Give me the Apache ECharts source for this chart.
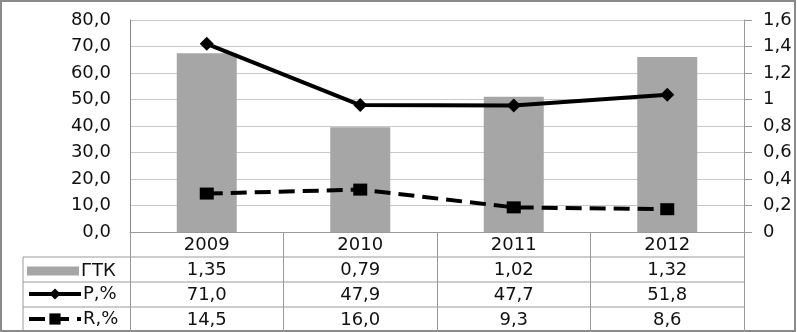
<!DOCTYPE html>
<html>
<head>
<meta charset="utf-8">
<script src="https://cdn.jsdelivr.net/npm/echarts@6/dist/echarts.min.js"></script>
<style>
  html, body { margin: 0; padding: 0; background: #fff; }
  #chart { width: 797px; height: 332px; }
</style>
</head>
<body>
<div id="chart"></div>
<script>
const years = ['2009', '2010', '2011', '2012']
const gtk = [1.35, 0.79, 1.02, 1.32]
const pPct = [71.0, 47.9, 47.7, 51.8]
const rPct = [14.5, 16.0, 9.3, 8.6]

const font = 'DejaVu Sans'
const fs = 18
const comma = (v, d) => v.toFixed(d).replace('.', ',')
const rightFmt = (v) => String(Math.round(v * 10) / 10).replace('.', ',')

const chart = echarts.init(document.getElementById('chart'))

// extra category axes used as table rows under the plot
const tableRow = (idx, labels) => ({
  type: 'category',
  gridIndex: 0,
  position: 'bottom',
  offset: 25 * idx,
  data: labels,
  axisLine: { show: false },
  axisTick: { show: false },
  axisLabel: { color: '#111', fontFamily: font, fontSize: fs, margin: 4 },
})

// one legend per table row, sitting in the left column
const rowLegend = (item, top, h) => ({
  orient: 'vertical',
  left: 27,
  top: top,
  padding: 0,
  itemWidth: 52,
  itemHeight: h,
  lineStyle: { width: 4 },
  textStyle: { color: '#111', fontFamily: font, fontSize: fs, padding: [0, 0, 0, -3] },
  data: [item],
})

const tableLine = (y, x1) => ({
  type: 'line',
  silent: true,
  shape: { x1: x1, y1: y, x2: 744, y2: y },
  style: { stroke: '#9a9a9a', lineWidth: 1 },
})

chart.setOption({
  animation: false,
  grid: { left: 130, right: 53, top: 20, bottom: 100 },
  legend: [
    rowLegend({ name: 'ГТК', icon: 'rect' }, 262, 9),
    rowLegend('P,%', 285, 14),
    rowLegend('R,%', 310, 14),
  ],
  xAxis: [
    {
      type: 'category',
      data: years,
      axisLine: { lineStyle: { color: '#9a9a9a' } },
      axisTick: { show: true, length: 100, interval: 0, lineStyle: { color: '#9a9a9a' } },
      axisLabel: { color: '#111', fontFamily: font, fontSize: fs, margin: 4 },
    },
    tableRow(1, gtk.map((v) => comma(v, 2))),
    tableRow(2, pPct.map((v) => comma(v, 1))),
    tableRow(3, rPct.map((v) => comma(v, 1))),
  ],
  yAxis: [
    {
      type: 'value',
      min: 0,
      max: 80,
      interval: 10,
      axisLine: { show: true, lineStyle: { color: '#888' } },
      axisTick: { show: false },
      splitLine: { lineStyle: { color: '#c8c8c8' } },
      axisLabel: { color: '#111', fontFamily: font, fontSize: fs, margin: 19, formatter: (v) => comma(v, 1) },
    },
    {
      type: 'value',
      min: 0,
      max: 1.6,
      interval: 0.2,
      axisLine: { show: true, lineStyle: { color: '#9a9a9a' } },
      axisTick: { show: true, length: 8, lineStyle: { color: '#9a9a9a' } },
      splitLine: { show: false },
      axisLabel: { color: '#111', fontFamily: font, fontSize: fs, margin: 19, formatter: rightFmt },
    },
  ],
  series: [
    {
      name: 'ГТК',
      type: 'bar',
      yAxisIndex: 1,
      barWidth: 60,
      itemStyle: { color: '#a6a6a6' },
      data: gtk,
    },
    {
      name: 'P,%',
      type: 'line',
      yAxisIndex: 0,
      symbol: 'diamond',
      symbolSize: 14,
      lineStyle: { color: '#000', width: 4 },
      itemStyle: { color: '#000' },
      data: pPct,
    },
    {
      name: 'R,%',
      type: 'line',
      yAxisIndex: 0,
      symbol: 'rect',
      symbolSize: [14, 12],
      lineStyle: { color: '#000', width: 4, type: [16, 8] },
      itemStyle: { color: '#000' },
      data: rPct,
    },
  ],
  graphic: [
    tableLine(257, 23),
    tableLine(282, 23),
    tableLine(307, 23),
    tableLine(331, 23),
    {
      type: 'line',
      silent: true,
      shape: { x1: 23, y1: 257, x2: 23, y2: 332 },
      style: { stroke: '#9a9a9a', lineWidth: 1 },
    },
    {
      type: 'rect',
      silent: true,
      shape: { x: 1, y: 1, width: 794, height: 330 },
      style: { fill: 'none', stroke: '#8a8a8a', lineWidth: 2 },
    },
  ],
})
</script>
</body>
</html>
